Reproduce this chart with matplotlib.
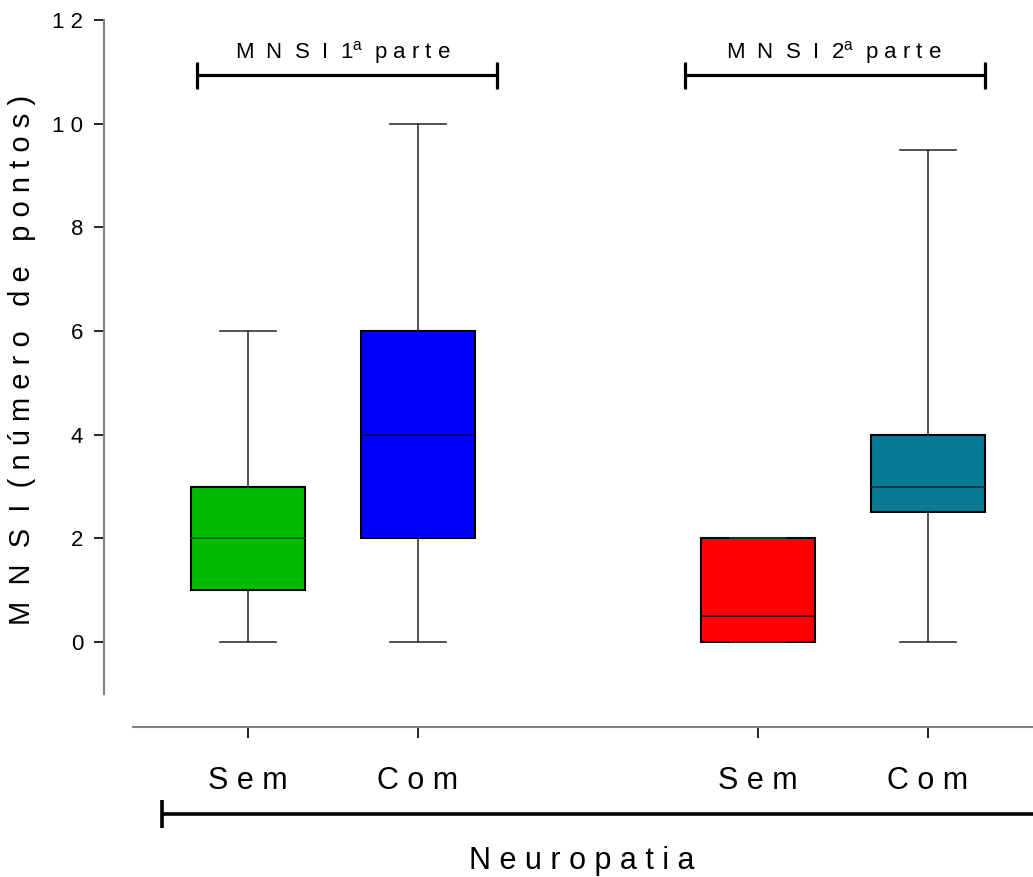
import numpy as np
import matplotlib as mpl
mpl.use("Agg")
import matplotlib.pyplot as plt

plt.rcParams.update({
    "font.family": "Liberation Sans",
    "mathtext.fontset": "custom",
    "mathtext.rm": "Liberation Sans",
    "mathtext.it": "Liberation Sans:italic",
})

# box statistics (MNSI points)
labels = ["S e m", "C o m", "S e m", "C o m"]
whislo = [0, 0, 0, 0]
q1 = [1, 2, 0, 2.5]
med = [2, 4, 0.5, 3]
q3 = [3, 6, 2, 4]
whishi = [6, 10, 2, 9.5]
colors = ["#00BB00", "#0000FF", "#FF0000", "#087A96"]
medcolors = ["#006600", "#000060", "#300000", "#02303C"]
yticks = [0, 2, 4, 6, 8, 10, 12]
yticklabels = ["0", "2", "4", "6", "8", "1 0", "1 2"]

positions = [1, 2, 4, 5]

fig = plt.figure(figsize=(10.33, 8.77), dpi=100)
ax = fig.add_axes([104/1033, 150/877, 1 - 104/1033, 727/877])

stats = []
for i in range(len(labels)):
    stats.append(dict(whislo=whislo[i], q1=q1[i], med=med[i], q3=q3[i],
                      whishi=whishi[i], label=labels[i]))

bp = ax.bxp(stats, positions=positions, widths=0.67, capwidths=0.33,
            showfliers=False, patch_artist=True,
            boxprops=dict(edgecolor="black", linewidth=1.5),
            whiskerprops=dict(color="#333333", linewidth=1.2),
            capprops=dict(color="#333333", linewidth=1.2),
            medianprops=dict(linewidth=1.3))
for patch, c in zip(bp["boxes"], colors):
    patch.set_facecolor(c)
for m, c in zip(bp["medians"], medcolors):
    m.set_color(c)

ax.set_xlim(0.153, 5.62)
ax.set_ylim(-1.64, 12.39)

for s in ["top", "right"]:
    ax.spines[s].set_visible(False)
ax.spines["left"].set_bounds(-1, 12)
ax.spines["bottom"].set_bounds(0.324, 5.62)
for s in ["left", "bottom"]:
    ax.spines[s].set_color("#808080")
    ax.spines[s].set_linewidth(1.5)

ax.set_yticks(yticks)
ax.set_yticklabels(yticklabels, fontsize=16)
ax.set_xticks(positions)
ax.set_xticklabels(labels, fontsize=22)
ax.tick_params(axis="y", direction="out", length=7, width=1.2, pad=8, color="black")
ax.tick_params(axis="x", direction="out", length=8, width=1.2, pad=20, color="black")

# brackets above the groups
def bracket(x0, x1, y, h):
    ax.plot([x0, x1], [y, y], color="black", lw=2.3, clip_on=False, solid_capstyle="butt")
    for x in (x0, x1):
        ax.plot([x, x], [y - h, y + h], color="black", lw=2.3, clip_on=False, solid_capstyle="butt")

bracket(0.70, 2.465, 10.94, 0.26)
bracket(3.57, 5.34, 10.94, 0.26)
ax.text(1.56, 11.27, r"M  N  S  I  1$^{\mathrm{a}}$  p a r t e", ha="center", va="baseline", fontsize=16)
ax.text(4.45, 11.27, r"M  N  S  I  2$^{\mathrm{a}}$  p a r t e", ha="center", va="baseline", fontsize=16)

# bottom bracket for Neuropatia
ax.plot([0.494, 5.8], [-3.32, -3.32], color="black", lw=2.6, clip_on=False, solid_capstyle="butt")
ax.plot([0.494, 0.494], [-3.05, -3.59], color="black", lw=2.6, clip_on=False, solid_capstyle="butt")
ax.text(2.965, -4.38, "N e u r o p a t i a", ha="center", va="baseline", fontsize=22)

fig.text(22/1033, 1 - 360/877, "M  N  S  I  ( n ú m e r o   d e   p o n t o s )",
         rotation=90, ha="center", va="center", fontsize=21)

fig.savefig("out.png", dpi=100)
